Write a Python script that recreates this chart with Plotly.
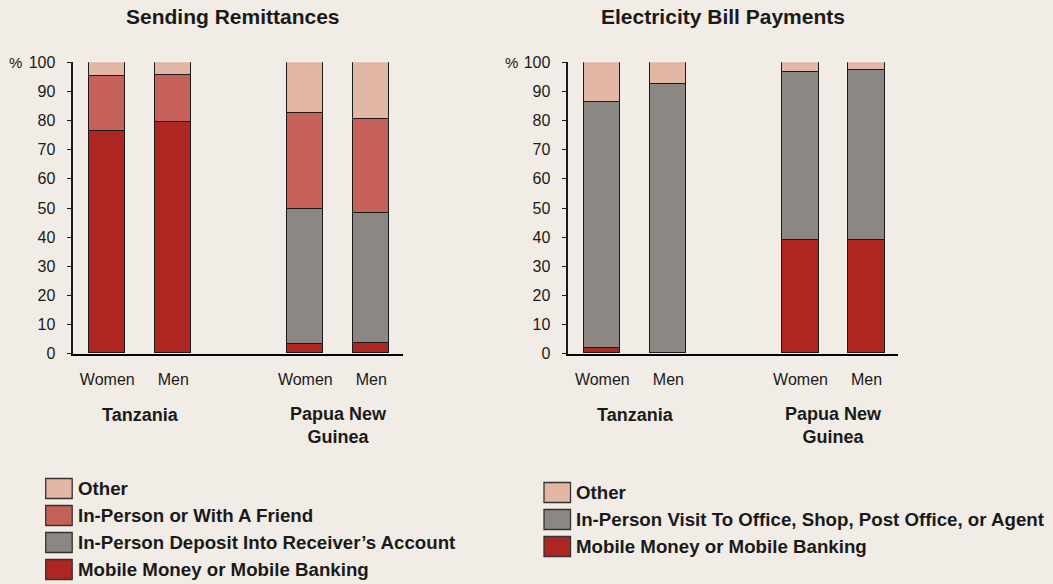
import plotly.graph_objects as go

W, H = 1053, 584

# data (percent)
groups = ['Women', 'Men', 'Women', 'Men']
slots = [0, 1, 3, 4]

remit_mobile = [76.4, 79.5, 3.1, 3.5]
remit_deposit = [None, None, 46.4, 44.7]
remit_friend = [18.7, 16.2, 33.1, 32.2]
remit_other = [4.9, 4.3, 17.4, 19.6]

elec_mobile = [1.7, None, 38.8, 38.8]
elec_visit = [84.6, 92.6, 57.8, 58.6]
elec_other = [13.7, 7.4, 3.4, 2.6]

c_mobile = '#AE2622'
c_friend = '#C56158'
c_gray = '#8B8883'
c_other = '#E2B7A5'
bg = '#F1ECE5'
ink = '#1a1a1a'
FONT = 'Liberation Sans, Arial, sans-serif'


def px_x(p):
    return p / W


def px_y(p):
    return 1 - p / H


fig = go.Figure()

left = [('Mobile Money or Mobile Banking', remit_mobile, c_mobile),
        ('In-Person Deposit Into Receiver\u2019s Account', remit_deposit, c_gray),
        ('In-Person or With A Friend', remit_friend, c_friend),
        ('Other', remit_other, c_other)]
right = [('Mobile Money or Mobile Banking', elec_mobile, c_mobile),
         ('In-Person Visit To Office, Shop, Post Office, or Agent', elec_visit, c_gray),
         ('Other', elec_other, c_other)]

for name, vals, col in left:
    fig.add_trace(go.Bar(x=slots, y=vals, name=name, marker_color=col, width=0.555,
                         marker_line=dict(color=ink, width=1.4), showlegend=False,
                         xaxis='x', yaxis='y'))
for name, vals, col in right:
    fig.add_trace(go.Bar(x=slots, y=vals, name=name, marker_color=col, width=0.555,
                         marker_line=dict(color=ink, width=1.4), showlegend=False,
                         xaxis='x2', yaxis='y2'))

ydom = [px_y(353.7), px_y(62.3)]
xcommon = dict(range=[-0.515, 4.48], tickvals=slots, ticktext=groups, ticks='',
               showline=True, linecolor='black', linewidth=2, showgrid=False, zeroline=False,
               tickfont=dict(size=16, color=ink, family=FONT), ticklabelstandoff=10,
               automargin=False, fixedrange=True)
ycommon = dict(range=[0, 100], tickvals=list(range(0, 101, 10)), ticks='outside', ticklen=5,
               tickcolor=ink, tickwidth=1.2, showline=True, linecolor=ink, linewidth=1.5,
               showgrid=False, zeroline=False, domain=ydom,
               tickfont=dict(size=16, color=ink, family=FONT), ticklabelstandoff=8,
               automargin=False, fixedrange=True)

fig.update_layout(
    width=W, height=H, barmode='stack', bargap=0,
    paper_bgcolor=bg, plot_bgcolor=bg,
    margin=dict(l=0, r=0, t=0, b=0, autoexpand=False),
    font=dict(family=FONT, color=ink),
    xaxis=dict(domain=[px_x(73.3), px_x(403)], anchor='y', **xcommon),
    yaxis=dict(anchor='x', **ycommon),
    xaxis2=dict(domain=[px_x(568.3), px_x(898.3)], anchor='y2', **xcommon),
    yaxis2=dict(anchor='x2', **ycommon),
)

ann = []
# titles
ann.append(dict(text='<b>Sending Remittances</b>', x=px_x(233), y=px_y(17), font=dict(size=21)))
ann.append(dict(text='<b>Electricity Bill Payments</b>', x=px_x(723), y=px_y(17), font=dict(size=21)))
# percent signs
ann.append(dict(text='%', x=px_x(15), y=px_y(62.5), font=dict(size=15)))
ann.append(dict(text='%', x=px_x(511), y=px_y(62.5), font=dict(size=15)))
# country labels
for xr in ['x', 'x2']:
    ann.append(dict(text='<b>Tanzania</b>', xref=xr, x=0.5, y=px_y(415), font=dict(size=18)))
    ann.append(dict(text='<b>Papua New<br>Guinea</b>', xref=xr, x=3.5, y=px_y(425.5), font=dict(size=18)))

shapes = []


def legend(items, x0, rows):
    for (name, col), yc in zip(items, rows):
        shapes.append(dict(type='rect', xref='paper', yref='paper',
                           x0=px_x(x0), x1=px_x(x0 + 26.5), y0=px_y(yc + 10), y1=px_y(yc - 10),
                           fillcolor=col, line=dict(color='#333333', width=1.3)))
        ann.append(dict(text='<b>%s</b>' % name, x=px_x(x0 + 30), y=px_y(yc), xanchor='left',
                        font=dict(size=18.7)))


legend([('Other', c_other), ('In-Person or With A Friend', c_friend),
        ('In-Person Deposit Into Receiver\u2019s Account', c_gray),
        ('Mobile Money or Mobile Banking', c_mobile)], 45.7, [488.5, 515.5, 542.5, 569.5])
legend([('Other', c_other), ('In-Person Visit To Office, Shop, Post Office, or Agent', c_gray),
        ('Mobile Money or Mobile Banking', c_mobile)], 544, [492.5, 519.5, 546.5])

for a in ann:
    a.setdefault('xref', 'paper')
    a.setdefault('yref', 'paper')
    a.setdefault('xanchor', 'center')
    a.setdefault('yanchor', 'middle')
    a['showarrow'] = False
    a['font'] = dict(family=FONT, color=ink, **a['font'])

fig.update_layout(annotations=ann, shapes=shapes)

fig.write_html('out.html', config={'displayModeBar': False},
               post_script="document.body.style.margin='0';document.body.style.background='%s';" % bg)
